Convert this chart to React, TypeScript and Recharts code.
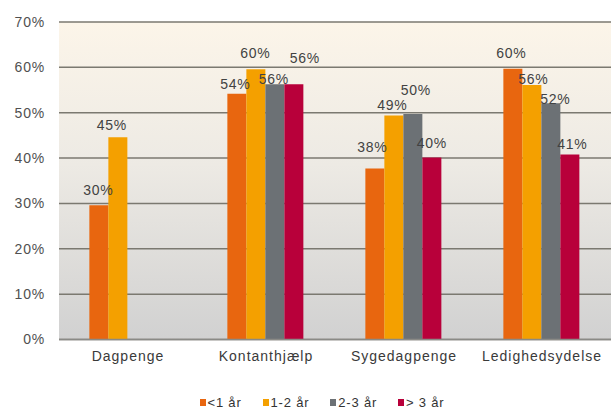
import React from 'react';
import { BarChart, Bar, XAxis, YAxis, CartesianGrid, Legend, LabelList } from 'recharts';

const categories = ['Dagpenge', 'Kontanthjælp', 'Sygedagpenge', 'Ledighedsydelse'];
const under1 = [29.6, 54.2, 37.7, 59.7];
const y1to2 = [44.6, 59.6, 49.4, 56.1];
const y2to3 = [null, 56.3, 49.7, 52.1];
const over3 = [null, 56.3, 40.1, 40.8];
const seriesNames = ['<1 år', '1-2 år', '2-3 år', '> 3 år'];
const seriesKeys = ['a', 'b', 'c', 'd'];
const seriesColors = ['#E8660F', '#F4A000', '#6C7175', '#B8003A'];
const yTicks = [0, 10, 20, 30, 40, 50, 60, 70];

const seriesValues = [under1, y1to2, y2to3, over3];

// label placement nudges [dx, lift above bar top]; rows = series, columns = categories
const labelNudge: number[][][] = [
  [[-0.5, 15], [-1.5, 10], [-2.5, 22], [-1.5, 16]],
  [[-6, 12.5], [-0.5, 16], [-1.5, 10.5], [1.5, 6]],
  [[0, 12], [-1, 5], [3, 24], [4.5, 4]],
  [[0, 12], [11, 26], [0, 15], [2.5, 10.5]],
];

const data = categories.map((name, i) => ({
  name,
  a: under1[i],
  b: y1to2[i],
  c: y2to3[i],
  d: over3[i],
}));

const FONT = 'Liberation Sans, Arial, sans-serif';

const makeLabel = (s: number) => (props: any) => {
  const { x, y, width, value } = props;
  if (value === null || value === undefined) return null;
  let idx = seriesValues[s].indexOf(Number(value));
  if (idx < 0 && typeof props.index === 'number') idx = props.index;
  const [dx, lift] = (idx >= 0 && labelNudge[s][idx]) || [0, 12];
  return (
    <text
      x={Number(x) + Number(width) / 2 + dx}
      y={Number(y) - lift}
      textAnchor="middle"
      dominantBaseline="central"
      fill="#424242"
      fontSize={14}
      letterSpacing={0.8}
      fontFamily={FONT}
    >
      {`${Math.round(Number(value))}%`}
    </text>
  );
};

const LegendContent = () => (
  <div
    style={{
      display: 'flex',
      justifyContent: 'center',
      alignItems: 'center',
      fontFamily: FONT,
      fontSize: 13,
      letterSpacing: 0.8,
      color: '#333',
      gap: 21,
      lineHeight: '15px',
    }}
  >
    {seriesNames.map((n, i) => (
      <div key={n} style={{ display: 'flex', alignItems: 'center' }}>
        <span style={{ display: 'inline-block', width: 6, height: 7, background: seriesColors[i], marginRight: 2 }} />
        <span>{n}</span>
      </div>
    ))}
  </div>
);

export default function App() {
  return (
    <div style={{ position: 'absolute', left: 0, top: 0, width: 611, height: 412, background: '#fff' }}>
      <BarChart
        width={611}
        height={412}
        data={data}
        margin={{ top: 22, right: 0, bottom: 0, left: 0 }}
        barCategoryGap="22%"
        barGap={0}
      >
        <defs>
          <linearGradient id="bgGrad" x1="0" y1="0" x2="0" y2="1">
            <stop offset="0%" stopColor="#FCF5E9" />
            <stop offset="45%" stopColor="#EDEAE4" />
            <stop offset="100%" stopColor="#D1D1D1" />
          </linearGradient>
        </defs>
        <CartesianGrid
          vertical={false}
          stroke="#7B7970"
          strokeWidth={1.5}
          fill="url(#bgGrad)"
          fillOpacity={1}
        />
        <XAxis
          dataKey="name"
          height={48.5}
          tickLine={false}
          tickSize={0}
          tickMargin={12}
          axisLine={{ stroke: '#8A8A86', strokeWidth: 1.5 }}
          tick={{ fill: '#3A3A3A', fontSize: 14, fontFamily: FONT, letterSpacing: 1 }}
          interval={0}
        />
        <YAxis
          width={59}
          domain={[0, 70]}
          ticks={yTicks}
          tickFormatter={(v: number) => `${v}%`}
          axisLine={false}
          tickLine={false}
          tickSize={0}
          tickMargin={14}
          tick={{ fill: '#505050', fontSize: 14, fontFamily: FONT, letterSpacing: 0.8 }}
        />
        <Legend
          verticalAlign="bottom"
          height={24}
          content={<LegendContent />}
          wrapperStyle={{ left: 33, width: 578, top: 395, bottom: 'auto' }}
        />
        {seriesKeys.map((k, i) => (
          <Bar key={k} dataKey={k} name={seriesNames[i]} fill={seriesColors[i]} isAnimationActive={false}>
            <LabelList dataKey={k} content={makeLabel(i)} />
          </Bar>
        ))}
      </BarChart>
    </div>
  );
}
